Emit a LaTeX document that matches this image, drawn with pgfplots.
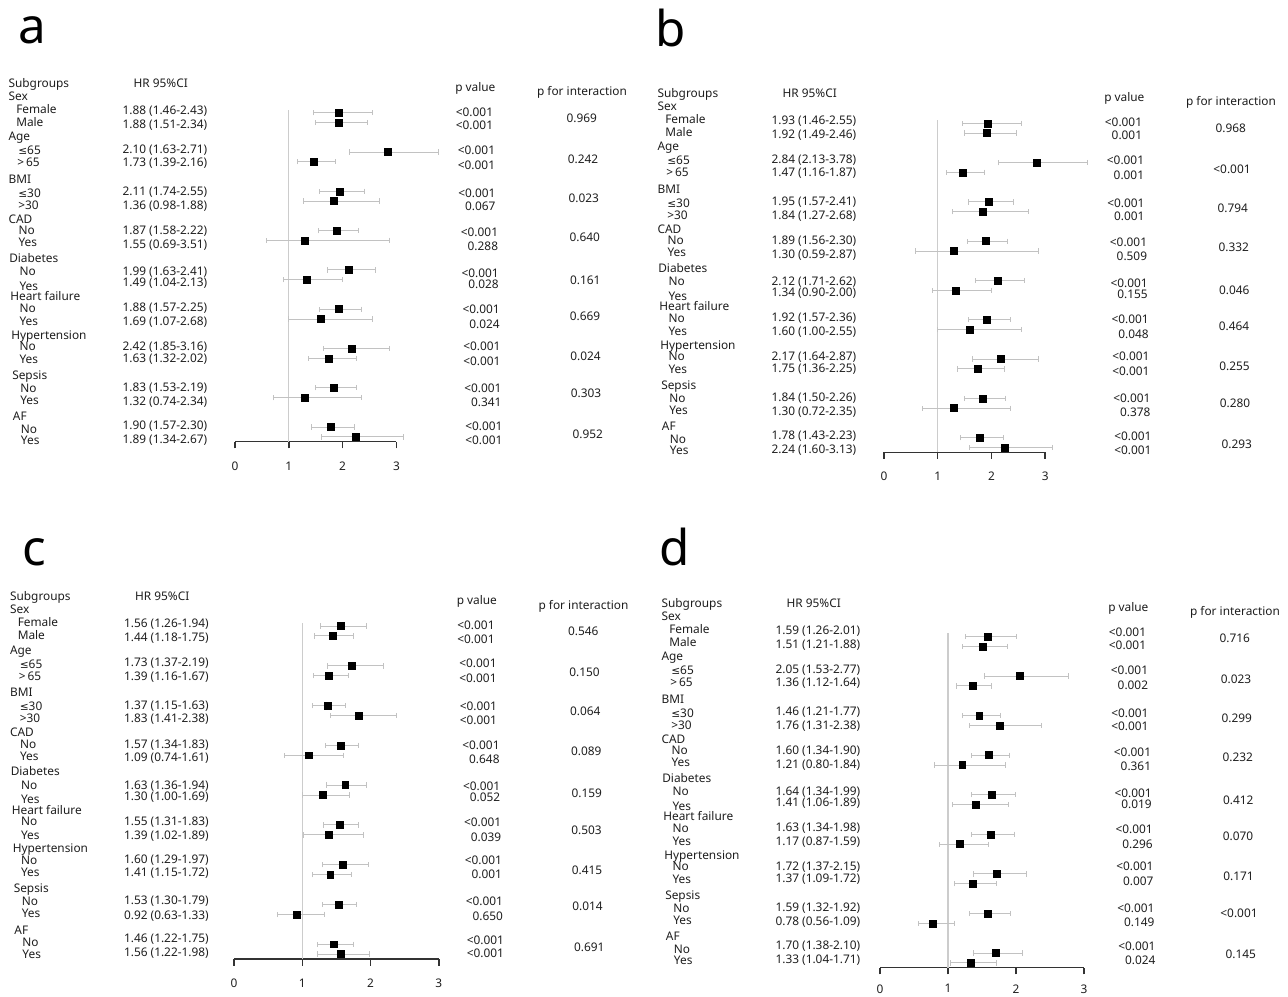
\documentclass[border=0pt]{standalone}
\usepackage{fontspec}
\setmainfont{Noto Sans}
\newfontfamily\symf[Scale=0.9]{DejaVu Sans}
\usepackage{pgfplots}
\pgfplotsset{compat=1.18}
\usepackage{pgfplotstable}

\definecolor{txt}{HTML}{1E1E1E}
\definecolor{ebar}{HTML}{C2C2C2}
\definecolor{refl}{HTML}{CCCCCC}
\definecolor{axl}{HTML}{333333}
\newcommand\fs{\fontsize{8.9}{10}\selectfont}
\newcommand\symleq{{\symf ≤}}

% y = row height above the x axis line (px of the figure), hr, lower, upper
\pgfplotstableread{
y hr lo hi
329.0 1.93 1.46 2.55
319.2 1.92 1.49 2.46
289.7 2.84 2.13 3.78
279.9 1.47 1.16 1.87
250.4 1.95 1.57 2.41
240.6 1.84 1.27 2.68
211.1 1.89 1.56 2.30
201.3 1.30 0.59 2.87
171.8 2.12 1.71 2.62
162.0 1.34 0.90 2.00
132.5 1.92 1.57 2.36
122.7 1.60 1.00 2.55
93.2  2.17 1.64 2.87
83.4  1.75 1.36 2.25
53.9  1.84 1.50 2.26
44.1  1.30 0.72 2.35
14.6  1.78 1.43 2.23
4.8   2.24 1.60 3.13
}\tabb

\pgfplotstableread{
y hr lo hi
329.0 1.56 1.26 1.94
319.2 1.44 1.18 1.75
289.7 1.73 1.37 2.19
279.9 1.39 1.16 1.67
250.4 1.37 1.15 1.63
240.6 1.83 1.41 2.38
211.1 1.57 1.34 1.83
201.3 1.09 0.74 1.61
171.8 1.63 1.36 1.94
162.0 1.30 1.00 1.69
132.5 1.55 1.31 1.83
122.7 1.39 1.02 1.89
93.2  1.60 1.29 1.97
83.4  1.41 1.15 1.72
53.9  1.53 1.30 1.79
44.1  0.92 0.63 1.33
14.6  1.46 1.22 1.75
4.8   1.56 1.22 1.98
}\tabc

\pgfplotstableread{
y hr lo hi
329.0 1.59 1.26 2.01
319.2 1.51 1.21 1.88
289.7 2.05 1.53 2.77
279.9 1.36 1.12 1.64
250.4 1.46 1.21 1.77
240.6 1.76 1.31 2.38
211.1 1.60 1.34 1.90
201.3 1.21 0.80 1.84
171.8 1.64 1.34 1.99
162.0 1.41 1.06 1.89
132.5 1.63 1.34 1.98
122.7 1.17 0.87 1.59
93.2  1.72 1.37 2.15
83.4  1.37 1.09 1.72
53.9  1.59 1.32 1.92
44.1  0.78 0.56 1.09
14.6  1.70 1.38 2.10
4.8   1.33 1.04 1.71
}\tabd

\pgfplotsset{fp/.style={
  anchor=south west, xmin=0, xmax=3, ymin=0, ymax=335,
  enlargelimits=false, clip=false,
  axis y line=none, axis x line=bottom,
  x axis line style={-, line width=1.1pt, draw=axl},
  xtick={0,1,2,3}, tick align=outside, major tick length=5pt,
  tick style={line width=1.1pt, draw=axl},
  xticklabel style={font=\fs, text=txt, yshift=-6.5pt},
  /pgf/number format/assume math mode=true,
}}

\newcommand\forest[1]{%
  \addplot[refl, line width=0.8pt] coordinates {(1,0) (1,332)};
  \addplot[only marks, mark=square*, mark size=2.6pt, black,
    error bars/.cd, x dir=both, x explicit,
    error bar style={ebar, line width=0.75pt},
    error mark options={rotate=90, ebar, mark size=2pt, line width=0.75pt}]
    table[x=hr, y=y, x error plus expr=\thisrow{hi}-\thisrow{hr},
          x error minus expr=\thisrow{hr}-\thisrow{lo}] {#1};
}

\def\hrY{{110,124,149,162.7,191.7,205,230.7,244,271.7,282.7,307.7,321.7,346,358.7,387.3,401.7,425,439.3}}
\def\pY{{112,125.7,150,165,193.3,206.7,232.3,246,273.3,284.3,309.3,324,346.7,361,388.3,402.7,426.7,440}}
\def\pX{{493.3,495.3,495.7,498.3,499,500,500.7,501.7,502.7}}
\def\iY{{118.3,159.3,198.3,237.7,280,316.7,356.7,393.3,434}}
\def\iX{{581.7,583,583.8,584.7,585.3,585,585.5,586,587.7}}

\newcommand\panel[3]{%
  \node[lab] at (8.3,83) {Subgroups};
  \node[lab] at (8.3,96) {Sex};
  \node[lab] at (16,109) {Female};
  \node[lab] at (16,122) {Male};
  \node[lab] at (8.3,136.7) {Age};
  \node[lab] at (18,150.7) {\symleq65};
  \node[lab] at (17,162.7) {>\,65};
  \node[lab] at (8.3,179) {BMI};
  \node[lab] at (18,193) {\symleq30};
  \node[lab] at (18,205) {>30};
  \node[lab] at (8.3,219) {CAD};
  \node[lab] at (18.3,230.7) {No};
  \node[lab] at (18.3,242.7) {Yes};
  \node[lab] at (9,258.3) {Diabetes};
  \node[lab] at (19.3,271.7) {No};
  \node[lab] at (19.3,286) {Yes};
  \node[lab] at (10,296.7) {Heart failure};
  \node[lab] at (19.3,308.3) {No};
  \node[lab] at (19.3,321.7) {Yes};
  \node[lab] at (11,335) {Hypertension};
  \node[lab] at (19.3,346.7) {No};
  \node[lab] at (19.3,359.3) {Yes};
  \node[lab] at (12,375) {Sepsis};
  \node[lab] at (20,388.3) {No};
  \node[lab] at (20,400) {Yes};
  \node[lab] at (12.7,416.7) {AF};
  \node[lab] at (20.7,429.3) {No};
  \node[lab] at (20.7,440.7) {Yes};
  \node[lab] at (133.3,83.3) {HR 95\%CI};
  \node[lab] at (455,87) {p value};
  \node[cen] at (582,91.7) {p for interaction};
  \foreach \lbl [count=\idx from 0] in {#1} {%
    \pgfmathsetmacro\yy{\hrY[\idx]}%
    \node[lab] at (122.3,\yy) {\lbl};}
  \foreach \lbl [count=\idx from 0] in {#2} {%
    \pgfmathsetmacro\yy{\pY[\idx]}%
    \pgfmathtruncatemacro\grp{\idx/2}%
    \pgfmathsetmacro\xx{\pX[\grp]}%
    \node[rgt] at (\xx,\yy) {\lbl};}
  \foreach \lbl [count=\idx from 0] in {#3} {%
    \pgfmathsetmacro\yy{\iY[\idx]}%
    \pgfmathsetmacro\xx{\iX[\idx]}%
    \node[cen] at (\xx,\yy) {\lbl};}
}

\begin{document}
\begin{tikzpicture}[x=0.75pt, y=-0.75pt,
  lab/.style={anchor=base west, yshift=-3pt, inner sep=0pt, text=txt, font=\fs},
  rgt/.style={anchor=base east, yshift=-3pt, inner sep=0pt, text=txt, font=\fs},
  cen/.style={anchor=base, yshift=-3pt, inner sep=0pt, text=txt, font=\fs},
  big/.style={anchor=base west, inner sep=0pt, text=black, font=\fontsize{37}{37}\selectfont}]
\useasboundingbox (0,0) rectangle (1288,996);

\node[big] at (18.5,43) {a};
\node[big] at (655.3,46.7) {b};
\node[big] at (22,565) {c};
\node[big] at (659.7,565.7) {d};

\coordinate (pa) at (235,441.7);
\coordinate (pb) at (884,452.3);
\coordinate (pc) at (234,959);
\coordinate (pd) at (880,967.7);

\begin{axis}[fp, at={(pa)}, x=40.35pt, y=0.75pt]
\forest{\tabb}
\end{axis}
\begin{axis}[fp, at={(pb)}, x=40.3pt, y=0.75pt]
\forest{\tabb}
\end{axis}
\begin{axis}[fp, at={(pc)}, x=51.2pt, y=0.759pt]
\forest{\tabc}
\end{axis}
\begin{axis}[fp, at={(pd)}, x=51pt, y=0.755pt,
  xticklabel style={yshift=2.5pt}]
\forest{\tabd}
\end{axis}

\begin{scope}
\panel{1.88 (1.46-2.43),1.88 (1.51-2.34),2.10 (1.63-2.71),1.73 (1.39-2.16),2.11 (1.74-2.55),1.36 (0.98-1.88),1.87 (1.58-2.22),1.55 (0.69-3.51),1.99 (1.63-2.41),1.49 (1.04-2.13),1.88 (1.57-2.25),1.69 (1.07-2.68),2.42 (1.85-3.16),1.63 (1.32-2.02),1.83 (1.53-2.19),1.32 (0.74-2.34),1.90 (1.57-2.30),1.89 (1.34-2.67)}
{<0.001,<0.001,<0.001,<0.001,<0.001,0.067,<0.001,0.288,<0.001,0.028,<0.001,0.024,<0.001,<0.001,<0.001,0.341,<0.001,<0.001}
{0.969,0.242,0.023,0.640,0.161,0.669,0.024,0.303,0.952}
\end{scope}

\begin{scope}[shift={(649,10)}]
\panel{1.93 (1.46-2.55),1.92 (1.49-2.46),2.84 (2.13-3.78),1.47 (1.16-1.87),1.95 (1.57-2.41),1.84 (1.27-2.68),1.89 (1.56-2.30),1.30 (0.59-2.87),2.12 (1.71-2.62),1.34 (0.90-2.00),1.92 (1.57-2.36),1.60 (1.00-2.55),2.17 (1.64-2.87),1.75 (1.36-2.25),1.84 (1.50-2.26),1.30 (0.72-2.35),1.78 (1.43-2.23),2.24 (1.60-3.13)}
{<0.001,0.001,<0.001,0.001,<0.001,0.001,<0.001,0.509,<0.001,0.155,<0.001,0.048,<0.001,<0.001,<0.001,0.378,<0.001,<0.001}
{0.968,<0.001,0.794,0.332,0.046,0.464,0.255,0.280,0.293}
\end{scope}

\begin{scope}[shift={(1.5,513.5)}]
\panel{1.56 (1.26-1.94),1.44 (1.18-1.75),1.73 (1.37-2.19),1.39 (1.16-1.67),1.37 (1.15-1.63),1.83 (1.41-2.38),1.57 (1.34-1.83),1.09 (0.74-1.61),1.63 (1.36-1.94),1.30 (1.00-1.69),1.55 (1.31-1.83),1.39 (1.02-1.89),1.60 (1.29-1.97),1.41 (1.15-1.72),1.53 (1.30-1.79),0.92 (0.63-1.33),1.46 (1.22-1.75),1.56 (1.22-1.98)}
{<0.001,<0.001,<0.001,<0.001,<0.001,<0.001,<0.001,0.648,<0.001,0.052,<0.001,0.039,<0.001,0.001,<0.001,0.650,<0.001,<0.001}
{0.546,0.150,0.064,0.089,0.159,0.503,0.415,0.014,0.691}
\end{scope}

\begin{scope}[shift={(653,520)}]
\panel{1.59 (1.26-2.01),1.51 (1.21-1.88),2.05 (1.53-2.77),1.36 (1.12-1.64),1.46 (1.21-1.77),1.76 (1.31-2.38),1.60 (1.34-1.90),1.21 (0.80-1.84),1.64 (1.34-1.99),1.41 (1.06-1.89),1.63 (1.34-1.98),1.17 (0.87-1.59),1.72 (1.37-2.15),1.37 (1.09-1.72),1.59 (1.32-1.92),0.78 (0.56-1.09),1.70 (1.38-2.10),1.33 (1.04-1.71)}
{<0.001,<0.001,<0.001,0.002,<0.001,<0.001,<0.001,0.361,<0.001,0.019,<0.001,0.296,<0.001,0.007,<0.001,0.149,<0.001,0.024}
{0.716,0.023,0.299,0.232,0.412,0.070,0.171,<0.001,0.145}
\end{scope}
\end{tikzpicture}
\end{document}
